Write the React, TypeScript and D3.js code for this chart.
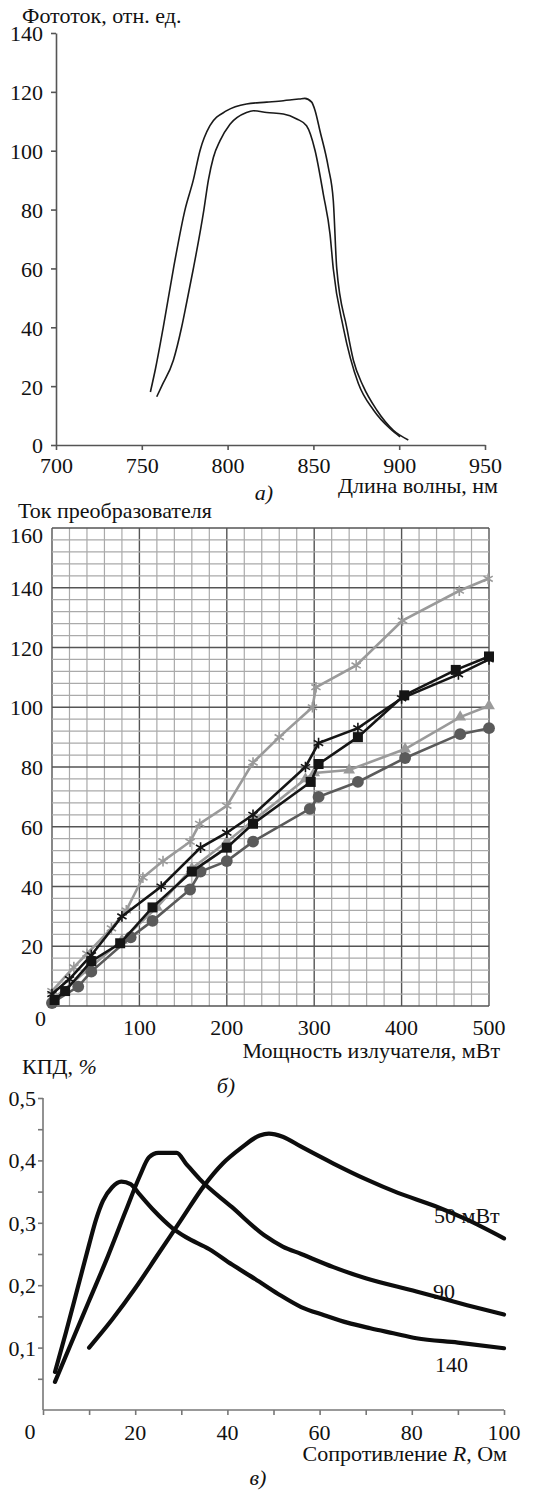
import { useEffect, useRef } from 'react'
import * as d3 from 'd3'

// ---- panel a: photocurrent vs wavelength ----
const waveTicks = [700, 750, 800, 850, 900, 950]
const photoTicks = [0, 20, 40, 60, 80, 100, 120, 140]
const outerWave = [755, 758, 762.5, 768.4, 775.2, 780, 783.9, 789.7, 799.5, 811, 822.8, 832.5, 842, 845, 849, 851, 853.8, 858.7, 861.6, 863.6, 869.4, 873.3, 879, 886.9, 896.6, 905.3]
const outerPhoto = [18, 26, 40, 59.8, 80, 90, 100, 108.5, 113.6, 115.9, 116.5, 117, 117.6, 117.8, 116.5, 113.6, 106.8, 94.3, 83, 60, 40, 28.8, 20, 11.9, 5, 1.7]
const innerWave = [758.7, 761.6, 768.4, 773.2, 776, 780, 786.2, 788.8, 791.7, 795.6, 801.4, 811, 815, 822.8, 832.5, 840.3, 846, 851, 855.8, 859.7, 861.6, 867.4, 876.2, 885, 894.6, 900.5]
const innerPhoto = [16.4, 20, 28.8, 40, 48, 59.8, 80, 90, 97.7, 103.4, 109, 113, 113.6, 113, 112.5, 110.8, 108.5, 100, 85.2, 71.6, 59.8, 40, 20.9, 11.9, 5.6, 2.8]

// ---- panel b: converter current vs emitter power ----
const powerTicks = [100, 200, 300, 400, 500]
const currentTicks = [0, 20, 40, 60, 80, 100, 120, 140, 160]
// light gray, stars
const powerA = [0, 25, 40, 68, 85, 104, 127, 158, 169, 200, 230, 260, 298, 302, 348, 401, 466, 499]
const currentA = [5, 13, 17.5, 26, 32, 43, 48.5, 55, 61, 67, 81.5, 90, 100, 106.7, 114, 129, 139, 143]
// black, squares
const powerB = [3, 15, 45, 78, 115, 160, 200, 230, 296, 305, 350, 403, 462, 500]
const currentB = [2, 5, 15, 21, 33, 45, 53, 61, 75, 81, 90, 104, 112.5, 117]
// black, asterisks
const powerC = [0, 20, 45, 80, 125, 170, 200, 230, 290, 305, 350, 400, 465, 500]
const currentC = [4, 9, 17, 30, 40, 53, 58, 64, 80, 88, 93, 103, 111, 116]
// light gray, triangles
const powerD = [0, 40, 80, 120, 160, 200, 230, 290, 300, 340, 404, 467, 500]
const currentD = [2, 12, 22, 33, 46, 55, 62, 76, 78, 79, 86, 96.7, 100.5]
// dark gray, circles
const powerE = [0, 30, 45, 90, 115, 158, 170, 200, 230, 295, 305, 350, 404, 467, 500]
const currentE = [1, 6.5, 11.5, 23, 28.5, 39, 45, 48.5, 55, 66, 70, 75, 83, 91, 93]

// ---- panel c: efficiency vs load resistance ----
const resTicks = [20, 40, 60, 80, 100]
const resMinor = [0, 10, 20, 30, 40, 50, 60, 70, 80, 90, 100]
const effTicks = [0.1, 0.2, 0.3, 0.4, 0.5]
const effMinor = [0.05, 0.1, 0.15, 0.2, 0.25, 0.3, 0.35, 0.4, 0.45, 0.5]
const res50 = [10, 15, 20, 25, 30, 35, 39, 43, 47, 49, 52, 56, 63, 70, 77, 85, 92, 100]
const eff50 = [0.1, 0.145, 0.195, 0.25, 0.305, 0.36, 0.395, 0.42, 0.44, 0.443, 0.438, 0.422, 0.395, 0.37, 0.348, 0.327, 0.305, 0.275]
const res90 = [2.6, 6, 10, 14, 18, 21, 23, 25, 29, 31, 34, 41, 48, 52, 56, 63, 70, 81, 92, 100]
const eff90 = [0.045, 0.105, 0.175, 0.245, 0.32, 0.375, 0.405, 0.412, 0.412, 0.395, 0.37, 0.325, 0.28, 0.262, 0.25, 0.229, 0.211, 0.19, 0.168, 0.153]
const res140 = [2.6, 5, 7.5, 10, 11.5, 13, 15, 17, 19, 21, 24, 28, 31, 36, 41, 46, 51, 56, 61, 66, 71, 76, 81, 90, 100]
const eff140 = [0.061, 0.125, 0.195, 0.265, 0.305, 0.335, 0.357, 0.366, 0.362, 0.345, 0.32, 0.292, 0.277, 0.258, 0.233, 0.21, 0.186, 0.165, 0.152, 0.14, 0.131, 0.123, 0.115, 0.108, 0.099]

const FONT = "'Liberation Serif', 'Times New Roman', Tinos, 'DejaVu Serif', serif"
const FS = 22

function zip(xs: number[], ys: number[]) {
  return xs.map((x, i) => [x, ys[i]] as [number, number])
}

export default function App() {
  const svgRef = useRef<SVGSVGElement>(null)

  useEffect(() => {
    if (!svgRef.current) return
    const svg = d3.select(svgRef.current)
    svg.selectAll('*').remove()

    const label = (x: number, y: number, txt: string, anchor = 'start', italic = false) =>
      svg.append('text')
        .attr('x', x).attr('y', y)
        .attr('text-anchor', anchor)
        .style('font-family', FONT)
        .style('font-size', `${FS}px`)
        .style('font-style', italic ? 'italic' : 'normal')
        .attr('fill', '#111')
        .text(txt)

    const styleAxis = (g: any, color: string) => {
      g.select('.domain').attr('stroke', color).attr('stroke-width', 1.6)
      g.selectAll('.tick line').attr('stroke', color).attr('stroke-width', 1.6)
      g.selectAll('.tick text').style('font-family', FONT).style('font-size', `${FS}px`).attr('fill', '#111')
    }

    // ---------- panel a ----------
    const ax = d3.scaleLinear().domain([700, 950]).range([56, 485])
    const ay = d3.scaleLinear().domain([0, 140]).range([445, 33])

    const gaX = svg.append('g').attr('transform', `translate(0,${ay(0)})`)
      .call(d3.axisBottom(ax).tickValues(waveTicks).tickSize(5).tickSizeOuter(0).tickPadding(7))
    styleAxis(gaX, '#555')
    const gaY = svg.append('g').attr('transform', `translate(${ax(700)},0)`)
      .call(d3.axisLeft(ay).tickValues(photoTicks).tickSize(5).tickSizeOuter(0).tickPadding(8))
    styleAxis(gaY, '#555')
    gaY.selectAll('.tick text').attr('dy', '0.36em')

    const lineA = d3.line<[number, number]>().x(d => ax(d[0])).y(d => ay(d[1])).curve(d3.curveMonotoneX)
    ;[zip(outerWave, outerPhoto), zip(innerWave, innerPhoto)].forEach(s => {
      svg.append('path').datum(s).attr('d', lineA).attr('fill', 'none')
        .attr('stroke', '#1a1a1a').attr('stroke-width', 1.6)
    })

    label(22, 23, 'Фототок, отн. ед.')
    label(498, 493, 'Длина волны, нм', 'end')
    label(264, 500, 'а)', 'middle', true)

    // ---------- panel b ----------
    const bx = d3.scaleLinear().domain([0, 500]).range([52, 489])
    const by = d3.scaleLinear().domain([0, 160]).range([1006, 528])

    const grid = svg.append('g')
    d3.range(0, 501, 20).forEach(v => {
      const major = v % 100 === 0
      grid.append('line').attr('x1', bx(v)).attr('x2', bx(v)).attr('y1', by(0)).attr('y2', by(160))
        .attr('stroke', major ? '#555' : '#aaa').attr('stroke-width', major ? 1.4 : 1.2)
    })
    d3.range(0, 161, 4).forEach(v => {
      const major = v % 20 === 0
      grid.append('line').attr('x1', bx(0)).attr('x2', bx(500)).attr('y1', by(v)).attr('y2', by(v))
        .attr('stroke', major ? '#555' : '#aaa').attr('stroke-width', major ? 1.4 : 1.2)
    })

    currentTicks.forEach(t => {
      if (t === 0) label(bx(0) - 6, by(0) + 20, '0', 'end')
      else if (t === 160) label(bx(0) - 9, by(t) + 15, String(t), 'end')
      else label(bx(0) - 9, by(t) + 8, String(t), 'end')
    })
    powerTicks.forEach(t => label(bx(t), by(0) + 29, String(t), 'middle'))

    const lineB = d3.line<[number, number]>().x(d => bx(d[0])).y(d => by(d[1]))
    const seriesB = [
      { data: zip(powerD, currentD), color: '#9a9a9a', sym: d3.symbolTriangle, size: 60, fill: true },
      { data: zip(powerA, currentA), color: '#9a9a9a', sym: d3.symbolAsterisk, size: 80, fill: false },
      { data: zip(powerE, currentE), color: '#5a5a5a', sym: d3.symbolCircle, size: 110, fill: true },
      { data: zip(powerC, currentC), color: '#151515', sym: d3.symbolAsterisk, size: 80, fill: false },
      { data: zip(powerB, currentB), color: '#151515', sym: d3.symbolSquare, size: 100, fill: true },
    ]
    seriesB.forEach(s => {
      svg.append('path').datum(s.data).attr('d', lineB).attr('fill', 'none')
        .attr('stroke', s.color).attr('stroke-width', 2.6)
      svg.append('g').selectAll('path').data(s.data).enter().append('path')
        .attr('transform', d => `translate(${bx(d[0])},${by(d[1])})`)
        .attr('d', d3.symbol().type(s.sym).size(s.size))
        .attr('fill', s.fill ? s.color : 'none')
        .attr('stroke', s.color).attr('stroke-width', s.fill ? 0 : 1.6)
    })

    label(18, 518, 'Ток преобразователя')
    label(500, 1058, 'Мощность излучателя, мВт', 'end')
    label(226, 1093, 'б)', 'middle', true)

    // ---------- panel c ----------
    const cx = d3.scaleLinear().domain([0, 100]).range([43, 504])
    const cy = d3.scaleLinear().domain([0, 0.5]).range([1410, 1098])

    const gcX = svg.append('g').attr('transform', `translate(0,${cy(0)})`)
      .call(d3.axisBottom(cx).tickValues(resMinor).tickSize(5).tickSizeOuter(0).tickFormat(() => ''))
    styleAxis(gcX, '#777')
    const gcY = svg.append('g').attr('transform', `translate(${cx(0)},0)`)
      .call(d3.axisLeft(cy).tickValues(effMinor).tickSize(5).tickSizeOuter(0).tickFormat(() => ''))
    styleAxis(gcY, '#777')
    gcX.select('.domain').attr('d', `M${cx(0)},0H${cx(100)}`)
    gcY.select('.domain').attr('d', `M0,${cy(0)}V${cy(0.5)}`)

    resTicks.forEach(t => label(cx(t), cy(0) + 30, String(t), 'middle'))
    label(30, cy(0) + 29, '0', 'middle')
    effTicks.forEach(t => label(cx(0) - 7, cy(t) + 8, t.toFixed(1).replace('.', ','), 'end'))

    const lineC = d3.line<[number, number]>().x(d => cx(d[0])).y(d => cy(d[1])).curve(d3.curveMonotoneX)
    ;[zip(res50, eff50), zip(res90, eff90), zip(res140, eff140)].forEach(s => {
      svg.append('path').datum(s).attr('d', lineC).attr('fill', 'none')
        .attr('stroke', '#0d0d0d').attr('stroke-width', 4.2)
        .attr('stroke-linecap', 'round').attr('stroke-linejoin', 'round')
    })

    label(434, 1223, '50 мВт')
    label(433, 1299, '90')
    label(435, 1372, '140')

    const kpd = label(22, 1074, 'КПД, ')
    kpd.append('tspan').style('font-style', 'italic').text('%')
    const res = label(507, 1461, 'Сопротивление ', 'end')
    res.append('tspan').style('font-style', 'italic').text('R')
    res.append('tspan').text(', Ом')
    label(258, 1485, 'в)', 'middle', true)
  }, [])

  return (
    <div style={{ position: 'absolute', left: 0, top: 0 }}>
      <svg ref={svgRef} width={540} height={1490} style={{ display: 'block', background: '#fff' }} />
    </div>
  )
}
